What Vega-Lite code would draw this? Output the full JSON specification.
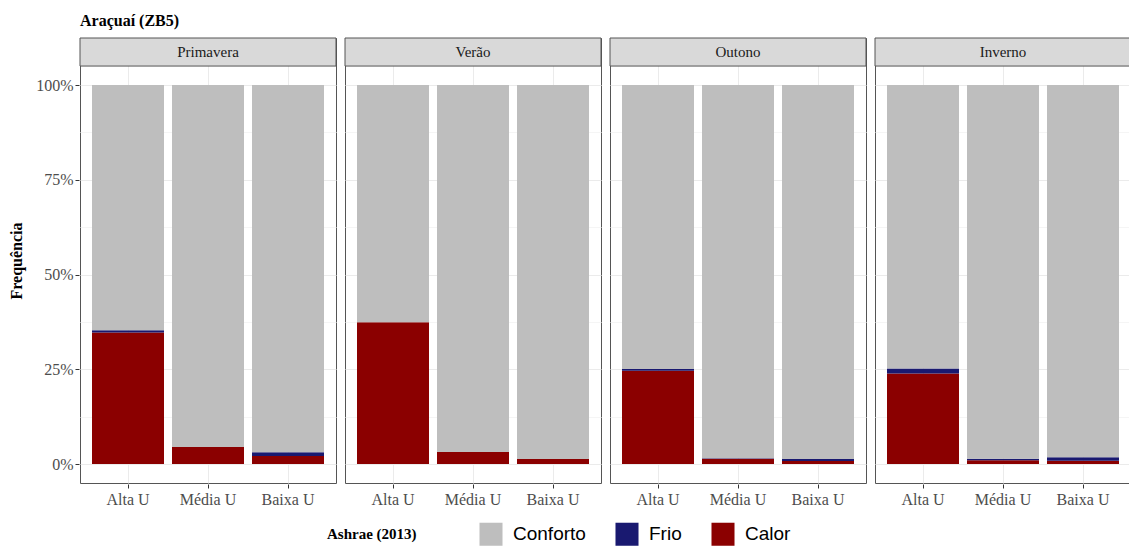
{
  "$schema": "https://vega.github.io/schema/vega-lite/v6.json",
  "background": "white",
  "padding": {"left": 8, "top": 13, "right": 0, "bottom": 0},
  "title": {"text": "Araçuaí (ZB5)", "anchor": "start", "frame": "group", "font": "Liberation Serif", "fontSize": 16, "fontWeight": "bold", "color": "#000", "offset": 8},
  "data": {"values": [
    {"estacao": "Primavera", "tipo": "Alta U", "classe": "Calor", "valor": 34.7},
    {"estacao": "Primavera", "tipo": "Alta U", "classe": "Frio", "valor": 0.6},
    {"estacao": "Primavera", "tipo": "Alta U", "classe": "Conforto", "valor": 64.7},
    {"estacao": "Primavera", "tipo": "Média U", "classe": "Calor", "valor": 4.5},
    {"estacao": "Primavera", "tipo": "Média U", "classe": "Frio", "valor": 0.0},
    {"estacao": "Primavera", "tipo": "Média U", "classe": "Conforto", "valor": 95.5},
    {"estacao": "Primavera", "tipo": "Baixa U", "classe": "Calor", "valor": 2.1},
    {"estacao": "Primavera", "tipo": "Baixa U", "classe": "Frio", "valor": 1.0},
    {"estacao": "Primavera", "tipo": "Baixa U", "classe": "Conforto", "valor": 96.9},
    {"estacao": "Verão", "tipo": "Alta U", "classe": "Calor", "valor": 37.4},
    {"estacao": "Verão", "tipo": "Alta U", "classe": "Frio", "valor": 0.0},
    {"estacao": "Verão", "tipo": "Alta U", "classe": "Conforto", "valor": 62.6},
    {"estacao": "Verão", "tipo": "Média U", "classe": "Calor", "valor": 3.2},
    {"estacao": "Verão", "tipo": "Média U", "classe": "Frio", "valor": 0.0},
    {"estacao": "Verão", "tipo": "Média U", "classe": "Conforto", "valor": 96.8},
    {"estacao": "Verão", "tipo": "Baixa U", "classe": "Calor", "valor": 1.3},
    {"estacao": "Verão", "tipo": "Baixa U", "classe": "Frio", "valor": 0.0},
    {"estacao": "Verão", "tipo": "Baixa U", "classe": "Conforto", "valor": 98.7},
    {"estacao": "Outono", "tipo": "Alta U", "classe": "Calor", "valor": 24.6},
    {"estacao": "Outono", "tipo": "Alta U", "classe": "Frio", "valor": 0.5},
    {"estacao": "Outono", "tipo": "Alta U", "classe": "Conforto", "valor": 74.9},
    {"estacao": "Outono", "tipo": "Média U", "classe": "Calor", "valor": 1.4},
    {"estacao": "Outono", "tipo": "Média U", "classe": "Frio", "valor": 0.1},
    {"estacao": "Outono", "tipo": "Média U", "classe": "Conforto", "valor": 98.5},
    {"estacao": "Outono", "tipo": "Baixa U", "classe": "Calor", "valor": 0.8},
    {"estacao": "Outono", "tipo": "Baixa U", "classe": "Frio", "valor": 0.5},
    {"estacao": "Outono", "tipo": "Baixa U", "classe": "Conforto", "valor": 98.7},
    {"estacao": "Inverno", "tipo": "Alta U", "classe": "Calor", "valor": 23.9},
    {"estacao": "Inverno", "tipo": "Alta U", "classe": "Frio", "valor": 1.3},
    {"estacao": "Inverno", "tipo": "Alta U", "classe": "Conforto", "valor": 74.8},
    {"estacao": "Inverno", "tipo": "Média U", "classe": "Calor", "valor": 1.0},
    {"estacao": "Inverno", "tipo": "Média U", "classe": "Frio", "valor": 0.4},
    {"estacao": "Inverno", "tipo": "Média U", "classe": "Conforto", "valor": 98.6},
    {"estacao": "Inverno", "tipo": "Baixa U", "classe": "Calor", "valor": 0.9},
    {"estacao": "Inverno", "tipo": "Baixa U", "classe": "Frio", "valor": 0.9},
    {"estacao": "Inverno", "tipo": "Baixa U", "classe": "Conforto", "valor": 98.2}
  ]},
  "transform": [{"calculate": "indexof(['Calor','Frio','Conforto'], datum.classe)", "as": "ordem"}],
  "facet": {"column": {"field": "estacao", "type": "nominal", "sort": ["Primavera", "Verão", "Outono", "Inverno"], "title": null, "header": {"labels": false, "title": null}}},
  "spacing": 7,
  "spec": {
    "width": 256,
    "height": 445,
    "layer": [
      {
        "mark": {"type": "bar"},
        "encoding": {
          "x": {"field": "tipo", "type": "nominal", "sort": ["Alta U", "Média U", "Baixa U"],
                "scale": {"paddingInner": 0.1, "paddingOuter": 0.15},
                "axis": {"title": null, "labelFont": "Liberation Serif", "labelFontSize": 16, "labelColor": "#4d4d4d", "labelAngle": 0, "tickColor": "#333", "tickSize": 4, "domain": false, "grid": true, "gridColor": "#ebebeb", "labelPadding": 3}},
          "y": {"field": "valor", "type": "quantitative", "stack": "zero",
                "scale": {"domain": [-5, 112.4], "nice": false, "zero": false},
                "axis": {"title": "Frequência", "titleFont": "Liberation Serif", "titleFontSize": 16, "titleFontWeight": "bold", "titleColor": "#000",
                         "values": [0, 12.5, 25, 37.5, 50, 62.5, 75, 87.5, 100],
                         "labelExpr": "datum.value % 25 == 0 ? datum.value + '%' : ''",
                         "labelFont": "Liberation Serif", "labelFontSize": 16, "labelColor": "#4d4d4d",
                         "tickColor": {"condition": {"test": "datum.value % 25 != 0", "value": "transparent"}, "value": "#333"},
                         "tickSize": 4, "labelPadding": 2, "titlePadding": 11, "domain": false,
                         "gridColor": {"condition": {"test": "datum.value % 25 != 0", "value": "#f5f5f5"}, "value": "#ebebeb"}}},
          "color": {"field": "classe", "type": "nominal",
                    "scale": {"domain": ["Conforto", "Frio", "Calor"], "range": ["#bebebe", "#191970", "#8b0000"]},
                    "legend": {"title": "Ashrae (2013)", "orient": "none", "legendX": 247, "legendY": 484, "direction": "horizontal", "titleOrient": "left",
                               "titleFont": "Liberation Serif", "titleFontSize": 15, "titleFontWeight": "bold", "titleColor": "#000", "titlePadding": 62,
                               "labelFont": "Liberation Sans", "labelFontSize": 19, "labelColor": "#000", "labelOffset": 10,
                               "symbolType": "square", "symbolSize": 530, "symbolStrokeWidth": 0, "symbolOpacity": 1, "columnPadding": 29}},
          "order": {"field": "ordem", "type": "quantitative"}
        }
      },
      {
        "transform": [{"filter": "datum.tipo == 'Média U' && datum.classe == 'Conforto'"}],
        "mark": {"type": "rect", "fill": "#d9d9d9", "stroke": "#555", "strokeWidth": 1},
        "encoding": {"y": {"datum": 105}, "y2": {"datum": 112.4}, "x": {"value": 0}, "x2": {"value": "width"}}
      },
      {
        "transform": [{"filter": "datum.tipo == 'Média U' && datum.classe == 'Conforto'"}],
        "mark": {"type": "text", "font": "Liberation Serif", "fontSize": 15, "color": "#1a1a1a", "baseline": "middle"},
        "encoding": {"x": {"field": "tipo", "type": "nominal", "sort": ["Alta U", "Média U", "Baixa U"]}, "y": {"datum": 108.7}, "text": {"field": "estacao"}}
      }
    ]
  },
  "config": {"view": {"stroke": "#555", "strokeWidth": 1}}
}
